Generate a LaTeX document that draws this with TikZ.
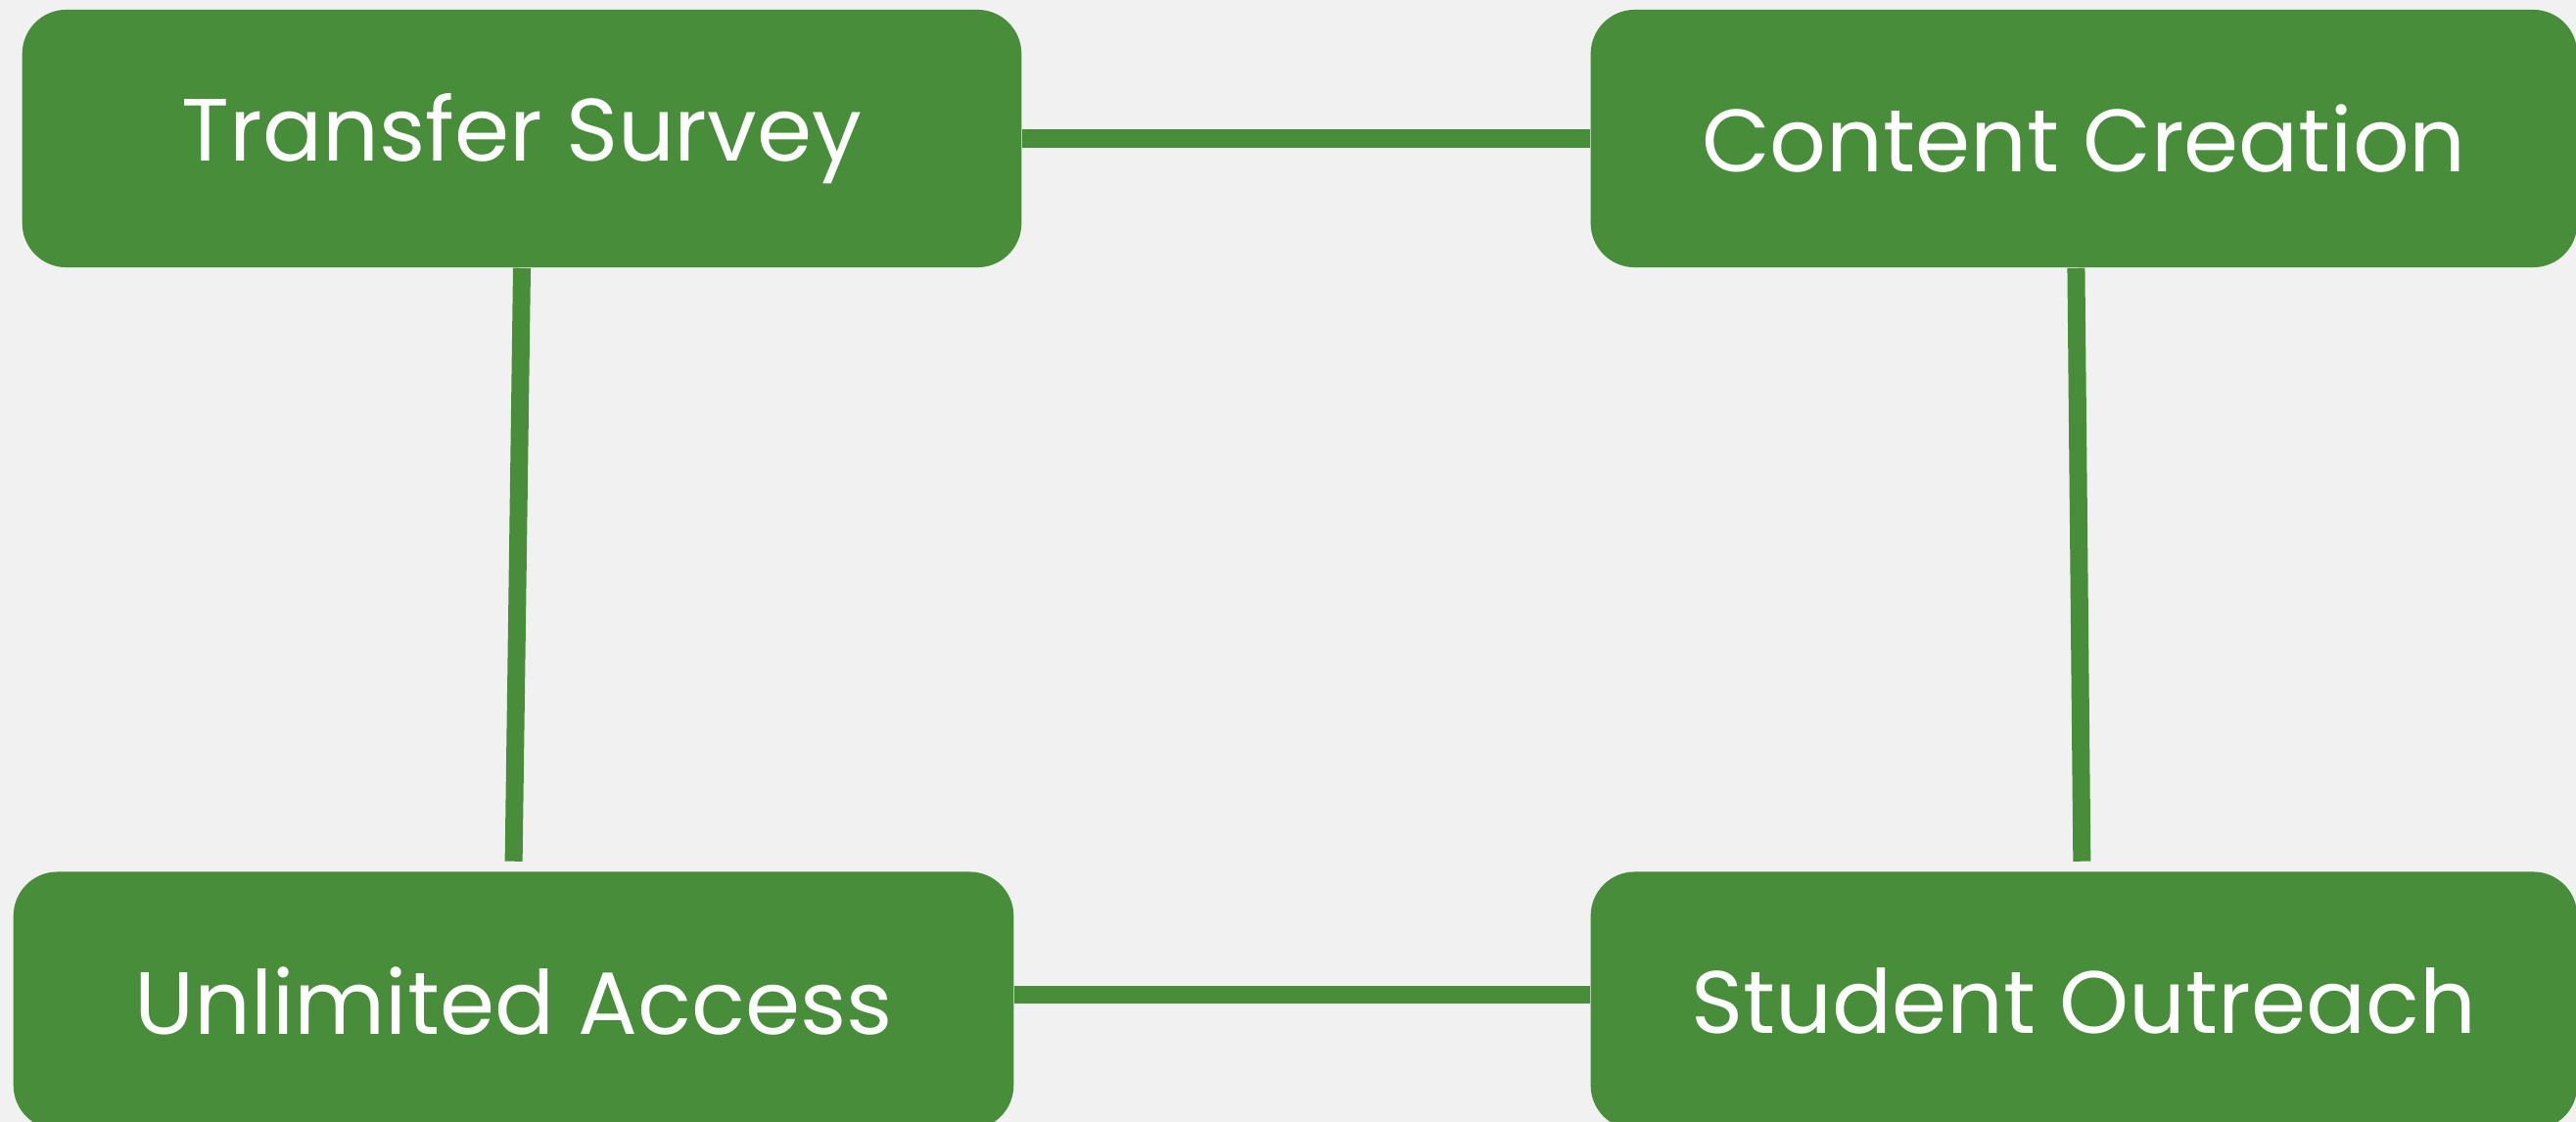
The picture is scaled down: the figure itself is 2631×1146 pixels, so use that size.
\documentclass[tikz,border=0pt]{standalone}
\usepackage{fontspec}
\setmainfont{Poppins}
\usetikzlibrary{positioning}
\definecolor{boxgreen}{HTML}{478D3A}
\definecolor{paper}{HTML}{F1F1F1}

\begin{document}
\begin{tikzpicture}[x=0.01cm,y=0.01cm,on grid,
      box/.style={fill=boxgreen,rounded corners=0.45cm,minimum height=2.63cm,
        inner sep=0pt,text=white,font=\fontsize{25.7}{30}\selectfont},
      link/.style={draw=boxgreen,line width=0.18cm}]
      \fill[paper] (0,0) rectangle (2631,-1146);
      \useasboundingbox (0,0) rectangle (2631,-1146);
      \node[box, minimum width=10.2cm]  (ts) at (533,-141.5) {Transfer Survey};
      \node[box, minimum width=10.07cm] (cc) [right=15.945cm of ts] {Content Creation};
      \node[box, minimum width=10.21cm] (ua) [below=8.8cm of ts, xshift=-0.085cm] {Unlimited Access};
      \node[box, minimum width=10.07cm] (so) [below=8.8cm of cc] {Student Outreach};
      \draw[link] (ts.east) -- (cc.west);
      \draw[link] ([yshift=0.06cm]ua.east) -- ([yshift=0.06cm]so.west);
      \draw[link, shorten >=0.1cm] (ts.south) -- (ua.north);
      \draw[link, shorten >=0.1cm] ([xshift=-0.08cm]cc.south) -- ([xshift=-0.02cm]so.north);
    \end{tikzpicture}
\end{document}
